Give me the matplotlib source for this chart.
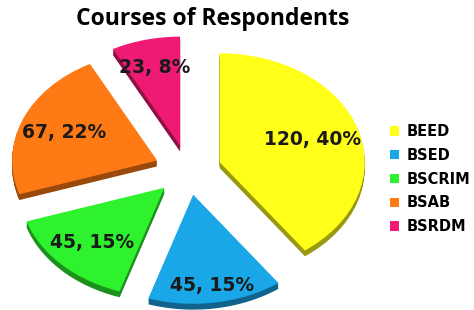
import numpy as np
import matplotlib
matplotlib.use("Agg")
import matplotlib.pyplot as plt
from matplotlib.colors import to_rgb

# ---- data ----
courses = ["BEED", "BSED", "BSCRIM", "BSAB", "BSRDM"]
counts = [120, 45, 45, 67, 23]
percents = [40, 15, 15, 22, 8]

# ---- style ----
colors = ["#FFFF1A", "#1AA7E8", "#2EF22E", "#FF7A14", "#EE1A73"]
explode = [0.23] * 5
label_r = [0.67, 0.84, 0.71, 0.69, 0.74]

W, H = 474, 310
fig = plt.figure(figsize=(W / 100, H / 100), dpi=100)
ax = fig.add_axes([0, 0, 1, 1])

cx, cy = 188, 140          # pie centre in pixels (from bottom-left)
sx, sy = 145, 109          # pixels per data unit (tilted -> ellipse)

dark = [tuple(np.array(to_rgb(c)) * 0.6) for c in colors]
# extruded side
for k in range(1, 7):
    ax.pie(counts, explode=explode, colors=dark, startangle=90,
           counterclock=False, radius=1.0, center=(0, -0.009 * k),
           wedgeprops=dict(linewidth=0), frame=True)
wedges, _ = ax.pie(counts, explode=explode, colors=colors, startangle=90,
                   counterclock=False, radius=1.0, center=(0, 0),
                   wedgeprops=dict(linewidth=0), frame=True)
ax.set_xlim(-cx / sx, (W - cx) / sx)
ax.set_ylim(-cy / sy, (H - cy) / sy)
ax.set_aspect("auto")
ax.axis("off")

for w, n, p, r in zip(wedges, counts, percents, label_r):
    ang = np.deg2rad((w.theta1 + w.theta2) / 2)
    x0, y0 = w.center
    ax.text(x0 + r * np.cos(ang), y0 + r * np.sin(ang), f"{n}, {p}%",
            ha="center", va="center", fontsize=13.5, fontweight="bold",
            color="#1a1a1a", family="DejaVu Sans")

fig.text(213 / W, 1 - 19 / H, "Courses of Respondents", ha="center",
         va="center", fontsize=16.5, fontweight="bold", family="Open Sans")

leg = fig.legend(wedges, courses, loc="upper left",
                 bbox_to_anchor=(377 / W, 1 - 111 / H), frameon=False,
                 handlelength=0.6, handleheight=0.6, handletextpad=0.5,
                 labelspacing=0.6,
                 prop=dict(family="DejaVu Sans", weight="bold", size=10.5))

fig.savefig("out.png", dpi=100)
